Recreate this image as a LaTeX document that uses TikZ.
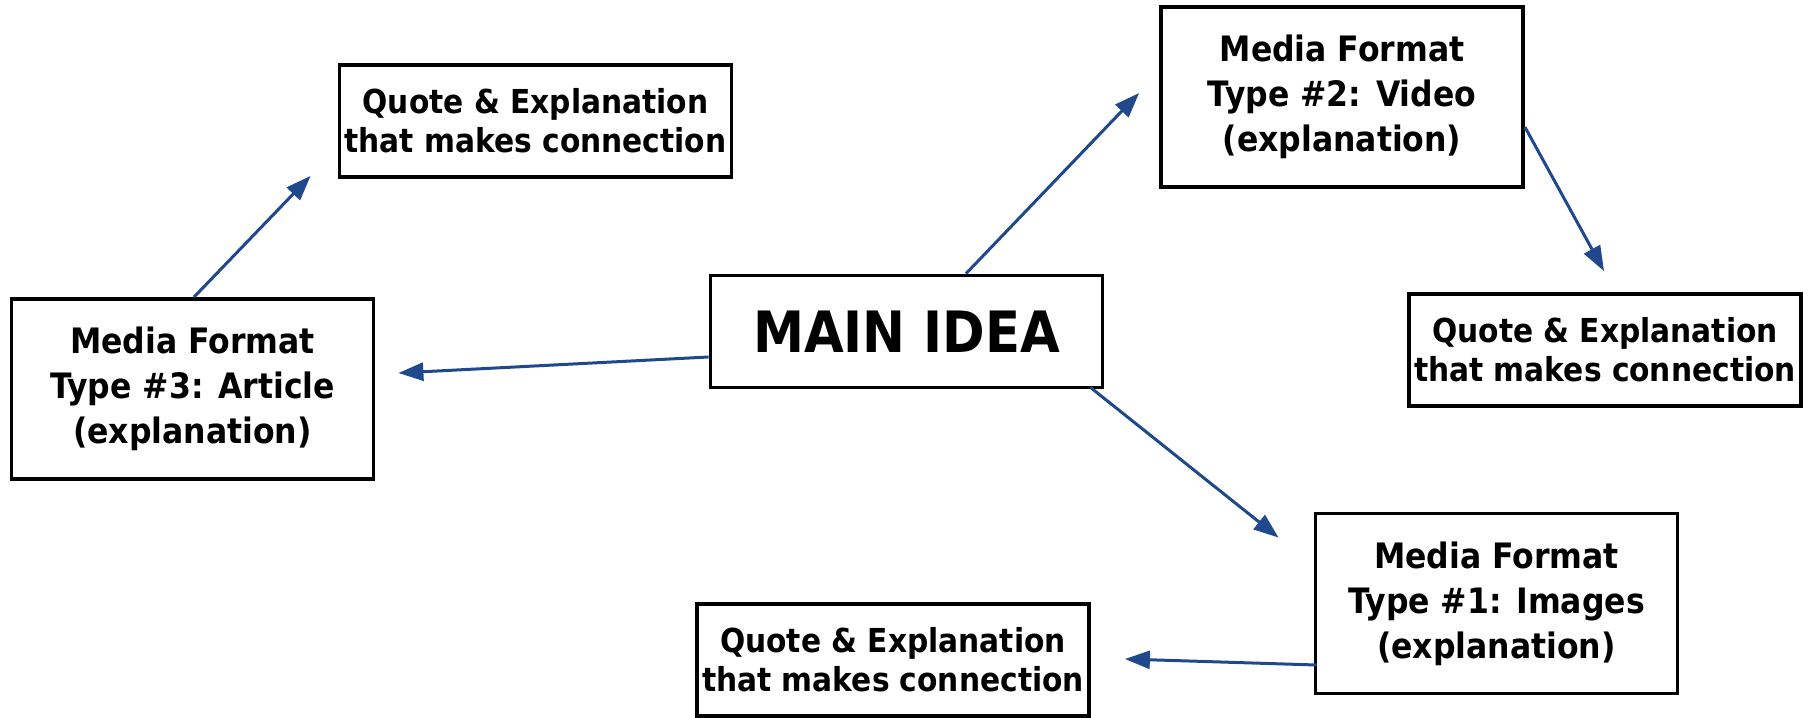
\documentclass[tikz,border=0pt]{standalone}
\usepackage{fontspec}
\setmainfont{DejaVu Sans Condensed}
\usetikzlibrary{positioning,calc,arrows.meta}
\definecolor{arrowblue}{RGB}{31,73,140}

\begin{document}
\begin{tikzpicture}[x=0.5pt,y=-0.5pt,
    every node/.style={draw,line width=1.9pt,align=center,font=\bfseries,inner sep=0pt},
    quotebox/.style={minimum width=196pt,minimum height=56pt,font=\bfseries\fontsize{16.5}{19.5}\selectfont},
    mediabox/.style={minimum width=181pt,minimum height=90pt,font=\bfseries\fontsize{17.5}{22.5}\selectfont},
    arr/.style={draw=arrowblue,line width=1.5pt,-{Triangle[length=12.5pt,width=9pt]}}]
            \useasboundingbox (0,0) rectangle (1808,717);
            \node[minimum width=196pt,minimum height=56pt,font=\bfseries\fontsize{28.5}{34}\selectfont] (main) at (906.5,331.5) {MAIN IDEA};
            \node[mediabox] (m3) at (192.5,389) {Media Format\\Type \#3: Article\\(explanation)};
            \node[mediabox] (m2) at (1342,97) {Media Format\\Type \#2: Video\\(explanation)};
            \node[mediabox] (m1) at (1496.5,603.5) {Media Format\\Type \#1: Images\\(explanation)};
            \node[quotebox] (q1) at (535.5,121) {Quote \& Explanation\\that makes connection};
            \node[quotebox] (q2) at (1605,350) {Quote \& Explanation\\that makes connection};
            \node[quotebox] (q3) at (893,660) {Quote \& Explanation\\that makes connection};
            % connectors
            \draw[arr] ($(main.west)+(0,25.5)$) -- ($(m3.east)+(23,-16)$);
            \draw[arr] ($(m3.north)+(1.5,0)$) -- ($(q1.south west)+(-27,-3)$);
            \draw[arr] ($(main.north)+(59.5,0)$) -- ($(m2.west)+(-20,-4)$);
            \draw[arr] ($(m2.east)+(0,30)$) -- ($(q2.north)+(-1,-21)$);
            \draw[arr] ($(main.south east)+(-14,-2)$) -- ($(m1.north west)+(-35,26)$);
            \draw[arr] ($(m1.west)+(3,61.5)$) -- ($(q3.east)+(34,-1)$);
\end{tikzpicture}
\end{document}
